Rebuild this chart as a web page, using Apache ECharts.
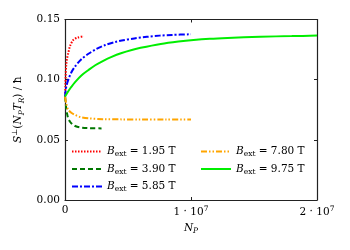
<!DOCTYPE html>
<html><head><meta charset="utf-8">
<script src="https://cdn.jsdelivr.net/npm/echarts@6/dist/echarts.min.js"></script>
<style>html,body{margin:0;padding:0;background:#fff}#c{width:350px;height:250px}</style>
</head><body><div id="c"></div>
<script>
// N_P values and S values per series
const npRed = [0, 3e4, 6e4, 1e5, 1.5e5, 2.6e5, 4e5, 6.6e5, 1e6, 1.5e6];
const sRed = [0.086, 0.095, 0.105, 0.112, 0.117, 0.122, 0.128, 0.133, 0.135, 0.136];
const npDkGreen = [0, 5e4, 1e5, 1.6e5, 2.5e5, 4e5, 6e5, 8e5, 1.2e6, 1.86e6, 2.9e6];
const sDkGreen = [0.086, 0.081, 0.076, 0.072, 0.068, 0.065, 0.0628, 0.0615, 0.0603, 0.0597, 0.0595];
const npBlue = [0, 5e4, 1e5, 2e5, 3e5, 5e5, 8e5, 1.3e6, 1.86e6, 2.5e6, 3.2e6, 4e6, 4.5e6, 5.5e6, 6.5e6, 7.5e6, 8.5e6, 1e7];
const sBlue = [0.086, 0.091, 0.094, 0.098, 0.101, 0.106, 0.111, 0.117, 0.1215, 0.1255, 0.1288, 0.1313, 0.1325, 0.1343, 0.1356, 0.1366, 0.1372, 0.1377];
const npOrange = [0, 1e5, 2.5e5, 5e5, 8e5, 1.2e6, 1.86e6, 3e6, 4.5e6, 6e6, 8e6, 1e7];
const sOrange = [0.086, 0.080, 0.075, 0.0725, 0.0707, 0.069, 0.0679, 0.0672, 0.0670, 0.0669, 0.0669, 0.0670];
const npGreen = [0, 1.5e5, 3e5, 5e5, 8e5, 1.3e6, 1.86e6, 2.4e6, 3e6, 3.7e6, 4.5e6, 5.3e6, 6e6, 7.6e6, 9e6, 1.02e7, 1.15e7, 1.29e7, 1.55e7, 1.8e7, 2e7];
const sGreen = [0.086, 0.0885, 0.091, 0.094, 0.098, 0.1035, 0.108, 0.112, 0.1155, 0.119, 0.1222, 0.1247, 0.1265, 0.1297, 0.1317, 0.133, 0.134, 0.1347, 0.1357, 0.1362, 0.1366];
const fieldLabels = ['1.95', '3.90', '5.85', '7.80', '9.75'];
const xTicks = [0, 1e7, 2e7];
const yTicks = [0, 0.05, 0.10, 0.15];

const FONT = 'DejaVu Serif';
const pairs = (a, b) => a.map((v, i) => [v, b[i]]);
const names = fieldLabels.map(f => 'B' + f);
const rich = {
  i: {fontFamily: FONT, fontStyle: 'italic', fontSize: 10.5, color: '#000'},
  n: {fontFamily: FONT, fontSize: 10.5, color: '#000'},
  sub: {fontFamily: FONT, fontStyle: 'italic', fontSize: 7.5, color: '#000', padding: [6, 0, 0, 0]},
  subr: {fontFamily: FONT, fontSize: 7.5, color: '#000', padding: [6, 0, 0, 0]},
  sup: {fontFamily: FONT, fontSize: 7.5, color: '#000', padding: [0, 0, 7, 0]}
};
const styles = [
  {color: '#ff0000', type: [1.5, 1.5], width: 2},
  {color: '#007700', type: [5, 3], width: 2},
  {color: '#0000ff', type: [6, 2, 2, 2], width: 2},
  {color: '#ffa500', type: [6, 2, 1.5, 2, 1.5, 2], width: 2},
  {color: '#00ee00', type: 'solid', width: 2}
];
const datas = [pairs(npRed, sRed), pairs(npDkGreen, sDkGreen), pairs(npBlue, sBlue), pairs(npOrange, sOrange), pairs(npGreen, sGreen)];
const series = datas.map((d, k) => ({
  name: names[k], type: 'line', data: d, showSymbol: false, symbol: 'none', smooth: 0.3,
  lineStyle: styles[k], itemStyle: {color: styles[k].color}, z: 3, animation: false
}));
const legendFmt = name => '{i|B}{subr|ext}{n| = ' + name.slice(1) + ' T}';
const legendBase = {
  orient: 'vertical', itemWidth: 30, itemHeight: 10, itemGap: 5,
  itemStyle: {opacity: 0},
  formatter: legendFmt, textStyle: {rich: rich, fontFamily: FONT, fontSize: 10.5}, selectedMode: false
};
const axisLineStyle = {onZero: false, lineStyle: {color: '#222', width: 1.2}};
const tickStyle = {show: true, inside: true, length: 3, lineStyle: {color: '#222'}};
const chart = echarts.init(document.getElementById('c'), null, {renderer: 'canvas'});
chart.setOption({
  animation: false,
  backgroundColor: '#fff',
  grid: {left: 65, right: 33, top: 19.5, bottom: 50},
  legend: [
    Object.assign({}, legendBase, {left: 66, top: 141, data: names.slice(0, 3)}),
    Object.assign({}, legendBase, {left: 195, top: 141, data: names.slice(3)})
  ],
  xAxis: [{
    type: 'value', min: 0, max: 2e7, interval: 1e7,
    axisLine: axisLineStyle, axisTick: tickStyle, splitLine: {show: false},
    axisLabel: {margin: 5, formatter: v => v === 0 ? '{n|0}' : '{n|' + (v / 1e7) + ' · 10}{sup|7}', rich: rich},
    name: '{i|N}{sub|P}', nameLocation: 'middle', nameGap: 20, nameTextStyle: {rich: rich}
  }, {
    type: 'value', min: 0, max: 2e7, interval: 1e7, position: 'top',
    axisLine: axisLineStyle, axisTick: tickStyle,
    axisLabel: {show: false}, splitLine: {show: false}
  }],
  yAxis: [{
    type: 'value', min: 0, max: 0.15, interval: 0.05,
    axisLine: Object.assign({show: true}, axisLineStyle), axisTick: tickStyle, splitLine: {show: false},
    axisLabel: {margin: 5, formatter: v => '{n|' + v.toFixed(2) + '}', rich: rich},
    name: '{i|S}{sup|⊥}{n|(}{i|N}{sub|P}{i|T}{sub|R}{n|) / ħ}', nameLocation: 'middle', nameGap: 36, nameRotate: 90,
    nameTextStyle: {rich: rich}
  }, {
    type: 'value', min: 0, max: 0.15, interval: 0.05, position: 'right',
    axisLine: Object.assign({show: true}, axisLineStyle), axisTick: tickStyle,
    axisLabel: {show: false}, splitLine: {show: false}
  }],
  series: series
});
</script></body></html>
